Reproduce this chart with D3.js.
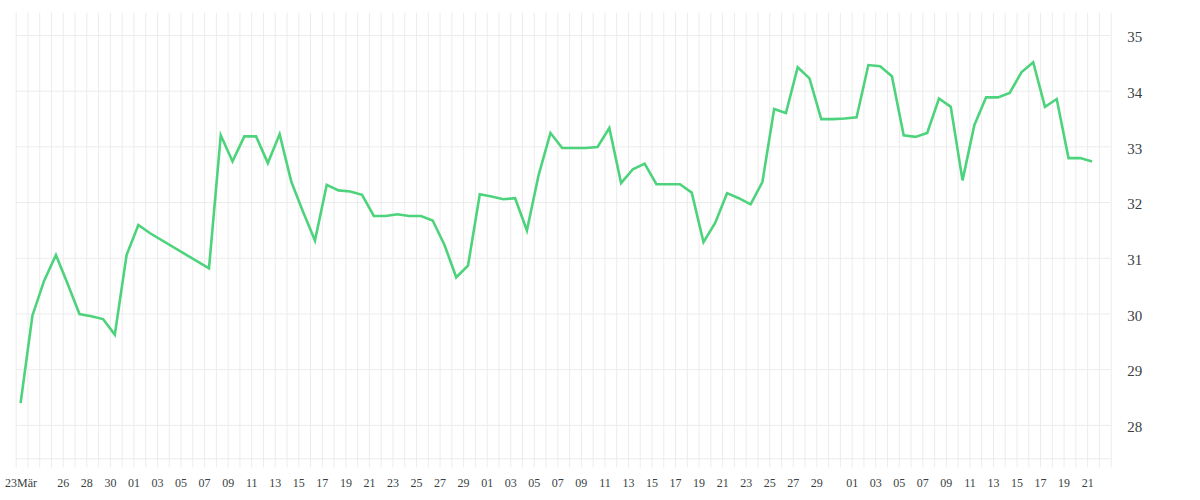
<!DOCTYPE html>
<html>
<head>
<meta charset="utf-8">
<script src="https://cdn.jsdelivr.net/npm/d3@7"></script>
<style>
  body { margin: 0; background: #fff; }
  text { font-family: "Liberation Serif", serif; fill: #3a3f42; }
</style>
</head>
<body>
<script>
// readings, one per day (Apr 03 - Apr 06 missing)
const dates = [
  "2020-03-22", "2020-03-23", "2020-03-24", "2020-03-25", "2020-03-26", "2020-03-27", "2020-03-28",
  "2020-03-29", "2020-03-30", "2020-03-31", "2020-04-01", "2020-04-02",
  "2020-04-07", "2020-04-08", "2020-04-09", "2020-04-10", "2020-04-11", "2020-04-12", "2020-04-13",
  "2020-04-14", "2020-04-15", "2020-04-16", "2020-04-17", "2020-04-18", "2020-04-19", "2020-04-20",
  "2020-04-21", "2020-04-22", "2020-04-23", "2020-04-24", "2020-04-25", "2020-04-26", "2020-04-27",
  "2020-04-28", "2020-04-29", "2020-04-30", "2020-05-01", "2020-05-02", "2020-05-03", "2020-05-04",
  "2020-05-05", "2020-05-06", "2020-05-07", "2020-05-08", "2020-05-09", "2020-05-10", "2020-05-11",
  "2020-05-12", "2020-05-13", "2020-05-14", "2020-05-15", "2020-05-16", "2020-05-17", "2020-05-18",
  "2020-05-19", "2020-05-20", "2020-05-21", "2020-05-22", "2020-05-23", "2020-05-24", "2020-05-25",
  "2020-05-26", "2020-05-27", "2020-05-28", "2020-05-29", "2020-05-30", "2020-05-31", "2020-06-01",
  "2020-06-02", "2020-06-03", "2020-06-04", "2020-06-05", "2020-06-06", "2020-06-07", "2020-06-08",
  "2020-06-09", "2020-06-10", "2020-06-11", "2020-06-12", "2020-06-13", "2020-06-14", "2020-06-15",
  "2020-06-16", "2020-06-17", "2020-06-18", "2020-06-19", "2020-06-20", "2020-06-21"
]
const values = [
  28.39, 29.96, 30.59, 31.05, 30.53, 29.99, 29.95,
  29.90, 29.62, 31.05, 31.59, 31.44,
  30.81, 33.20, 32.73, 33.18, 33.18, 32.70, 33.22,
  32.36, 31.82, 31.31, 32.31, 32.21, 32.19, 32.13,
  31.75, 31.75, 31.78, 31.75, 31.75, 31.67, 31.23,
  30.65, 30.86, 32.14, 32.10, 32.05, 32.07, 31.49,
  32.49, 33.24, 32.97, 32.97, 32.97, 32.99, 33.33,
  32.34, 32.59, 32.69, 32.32, 32.32, 32.32, 32.17,
  31.28, 31.63, 32.16, 32.07, 31.96, 32.36, 33.67,
  33.60, 34.42, 34.22, 33.49, 33.49, 33.50, 33.52,
  34.46, 34.44, 34.26, 33.20, 33.17, 33.24, 33.86,
  33.71, 32.39, 33.38, 33.88, 33.88, 33.96, 34.33,
  34.51, 33.71, 33.85, 32.79, 32.79, 32.73
]
const yTicks = [28, 29, 30, 31, 32, 33, 34, 35]
const tickDates = [
  "2020-03-22T10:00Z", "2020-03-26", "2020-03-28", "2020-03-30",
  "2020-04-01", "2020-04-03", "2020-04-05", "2020-04-07", "2020-04-09", "2020-04-11", "2020-04-13", "2020-04-15",
  "2020-04-17", "2020-04-19", "2020-04-21", "2020-04-23", "2020-04-25", "2020-04-27", "2020-04-29",
  "2020-05-01", "2020-05-03", "2020-05-05", "2020-05-07", "2020-05-09", "2020-05-11", "2020-05-13", "2020-05-15",
  "2020-05-17", "2020-05-19", "2020-05-21", "2020-05-23", "2020-05-25", "2020-05-27", "2020-05-29",
  "2020-06-01", "2020-06-03", "2020-06-05", "2020-06-07", "2020-06-09", "2020-06-11", "2020-06-13", "2020-06-15",
  "2020-06-17", "2020-06-19", "2020-06-21"
]
const tickTexts = [
  "23Mär", "26", "28", "30",
  "01", "03", "05", "07", "09", "11", "13", "15",
  "17", "19", "21", "23", "25", "27", "29",
  "01", "03", "05", "07", "09", "11", "13", "15",
  "17", "19", "21", "23", "25", "27", "29",
  "01", "03", "05", "07", "09", "11", "13", "15",
  "17", "19", "21"
]

const w = 1200
const h = 500
const plotLeft = 15.7
const plotRight = 1110.7
const plotTop = 12.7
const plotBottom = 458.3
const readHour = 10
const parse = d3.utcParse("%Y-%m-%d")

const firstDay = parse("2020-03-22")
const lastDay = parse("2020-06-23")

const dataset = dates.map((d, i) => ({ t: d3.utcHour.offset(parse(d), readHour), v: values[i] }))

const xScale = d3.scaleUtc()
                 .domain([firstDay, lastDay])
                 .range([plotLeft, plotRight])
const yScale = d3.scaleLinear()
                 .domain([27.4, 35.4])
                 .range([plotBottom, plotTop])

const svg = d3.select("body")
              .append("svg")
              .attr("width", w)
              .attr("height", h)

// vertical grid, one line per day, running a little below the plot
const gridX = d3.axisBottom(xScale)
                .tickValues(d3.utcDay.range(firstDay, d3.utcDay.offset(lastDay, 1)))
                .tickSize(plotBottom - plotTop + 9)
                .tickFormat("")
svg.append("g")
   .attr("transform", "translate(0, " + plotTop + ")")
   .call(gridX)
   .call(g => g.select(".domain").remove())
   .call(g => g.selectAll("line").attr("stroke", "#ececec"))

// horizontal grid
const gridY = d3.axisLeft(yScale)
                .tickValues(yTicks)
                .tickSize(-(plotRight - plotLeft))
                .tickFormat("")
svg.append("g")
   .attr("transform", "translate(" + plotLeft + ", 0)")
   .call(gridY)
   .call(g => g.select(".domain").remove())
   .call(g => g.selectAll("line").attr("stroke", "#ececec"))

const xAxis = d3.axisBottom(xScale)
                .tickValues(tickDates.map(d3.isoParse))
                .tickFormat((d, i) => tickTexts[i])
                .tickSize(0)
                .tickSizeOuter(0)
                .tickPadding(20)
svg.append("g")
   .attr("id", "x-axis")
   .attr("transform", "translate(0, " + plotBottom + ")")
   .call(xAxis)
   .call(g => g.select(".domain").attr("stroke", "#ececec"))
   .call(g => g.selectAll("text").attr("font-size", 12).attr("font-family", null))

const yAxis = d3.axisRight(yScale)
                .tickValues(yTicks)
                .tickSize(0)
                .tickPadding(16.5)
svg.append("g")
   .attr("id", "y-axis")
   .attr("transform", "translate(" + plotRight + ", 0)")
   .call(yAxis)
   .call(g => g.select(".domain").remove())
   .call(g => g.selectAll("text").attr("font-size", 15).attr("font-family", null).attr("y", 2))

const line = d3.line()
               .x((d) => xScale(d.t))
               .y((d) => yScale(d.v))

svg.append("path")
   .datum(dataset)
   .attr("fill", "none")
   .attr("stroke", "#4dd37c")
   .attr("stroke-width", 2.6)
   .attr("d", line)
</script>
</body>
</html>
